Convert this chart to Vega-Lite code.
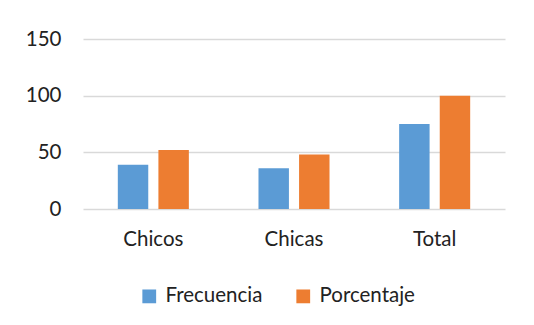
{
  "$schema": "https://vega.github.io/schema/vega-lite/v6.json",
  "width": 422,
  "height": 170,
  "autosize": {"type": "none"},
  "padding": {"left": 83, "top": 39, "right": 29, "bottom": 116},
  "background": "white",
  "data": {
    "values": [
      {"grupo": "Chicos", "serie": "Frecuencia", "valor": 39},
      {"grupo": "Chicos", "serie": "Porcentaje", "valor": 52},
      {"grupo": "Chicas", "serie": "Frecuencia", "valor": 36},
      {"grupo": "Chicas", "serie": "Porcentaje", "valor": 48},
      {"grupo": "Total", "serie": "Frecuencia", "valor": 75},
      {"grupo": "Total", "serie": "Porcentaje", "valor": 100}
    ]
  },
  "config": {
    "view": {"stroke": null},
    "font": "Lato"
  },
  "mark": {"type": "bar"},
  "encoding": {
    "x": {
      "field": "grupo",
      "type": "nominal",
      "sort": ["Chicos", "Chicas", "Total"],
      "scale": {"paddingInner": 0.495, "paddingOuter": 0.2475},
      "axis": {
        "title": null,
        "labelAngle": 0,
        "domain": false,
        "ticks": false,
        "labelFontSize": 20.5,
        "labelColor": "#222222",
        "labelPadding": 20
      }
    },
    "xOffset": {
      "field": "serie",
      "type": "nominal",
      "scale": {"paddingInner": 0.25, "paddingOuter": 0}
    },
    "y": {
      "field": "valor",
      "type": "quantitative",
      "scale": {"domain": [0, 150]},
      "axis": {
        "title": null,
        "values": [0, 50, 100, 150],
        "domain": false,
        "ticks": false,
        "gridColor": "#D9D9D9",
        "gridWidth": 1.5,
        "labelFontSize": 20.5,
        "labelColor": "#222222",
        "labelPadding": 22
      }
    },
    "color": {
      "field": "serie",
      "type": "nominal",
      "scale": {"domain": ["Frecuencia", "Porcentaje"], "range": ["#5B9BD5", "#ED7D31"]},
      "legend": {
        "title": null,
        "orient": "none",
        "legendX": 56,
        "legendY": 247,
        "direction": "horizontal",
        "symbolType": "square",
        "symbolSize": 190,
        "symbolStrokeWidth": 0,
        "labelFontSize": 20.5,
        "labelColor": "#222222",
        "labelOffset": 6,
        "columnPadding": 30
      }
    }
  }
}
